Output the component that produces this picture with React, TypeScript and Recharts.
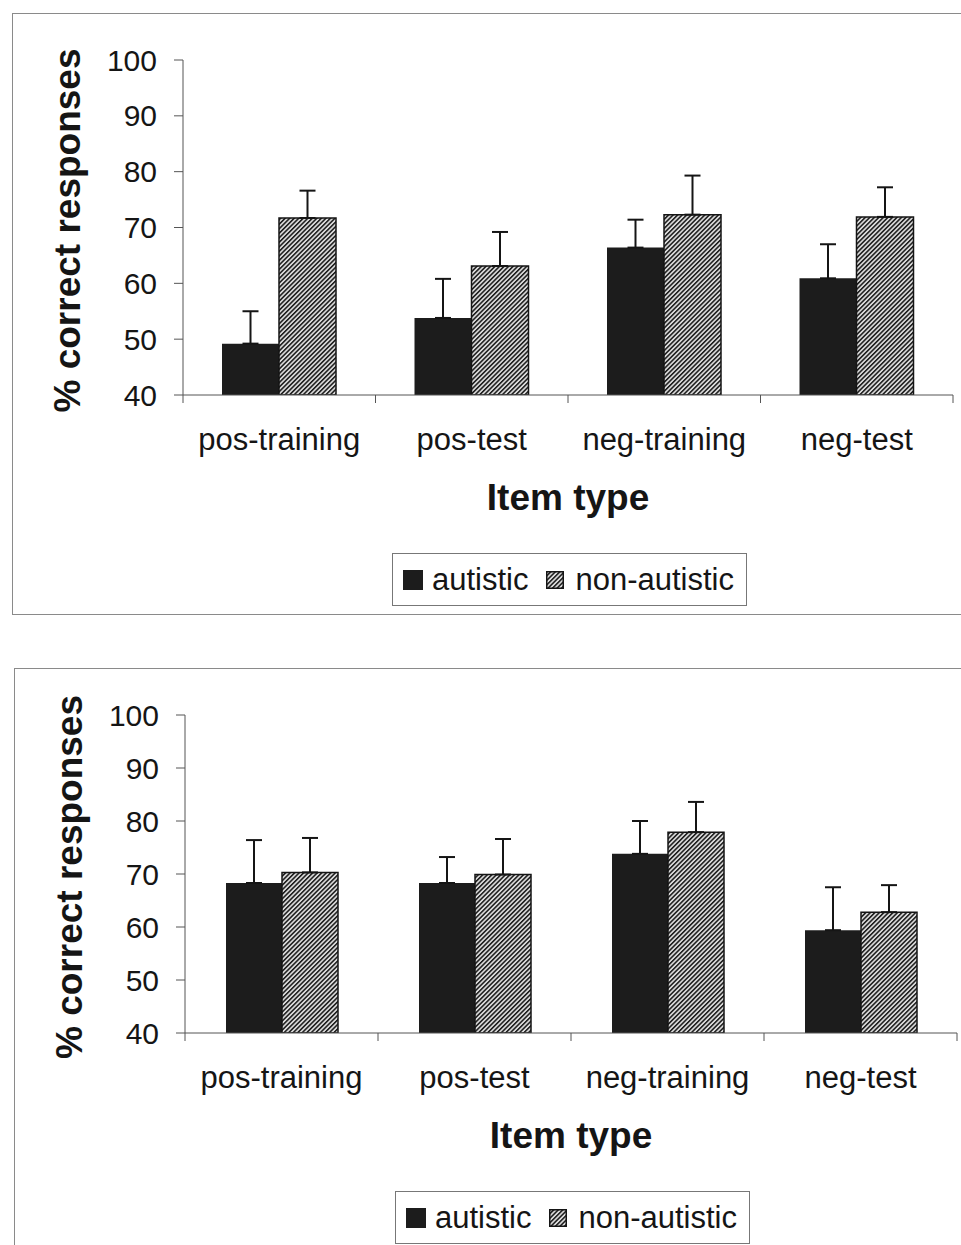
import { Bar, BarChart, ErrorBar, Label, XAxis, YAxis } from 'recharts';

const categories = ['pos-training', 'pos-test', 'neg-training', 'neg-test'];
const yTicks = [40, 50, 60, 70, 80, 90, 100];

// upper panel
const autisticTop = [49.2, 53.8, 66.4, 60.9];
const autisticTopErr = [5.8, 7.0, 5.0, 6.1];
const nonAutisticTop = [71.7, 63.1, 72.3, 71.9];
const nonAutisticTopErr = [4.9, 6.1, 7.0, 5.3];

// lower panel
const autisticBottom = [68.3, 68.3, 73.8, 59.4];
const autisticBottomErr = [8.1, 4.9, 6.2, 8.1];
const nonAutisticBottom = [70.3, 69.9, 77.9, 62.8];
const nonAutisticBottomErr = [6.5, 6.7, 5.7, 5.1];

const FONT = '"Liberation Sans", Arial, sans-serif';
const AXIS = '#555';
const INK = '#151515';

const buildRows = (aut: number[], autErr: number[], non: number[], nonErr: number[]) =>
  categories.map((name, i) => ({
    name,
    autistic: aut[i],
    autErr: [0, autErr[i]],
    nonAutistic: non[i],
    nonErr: [0, nonErr[i]],
  }));

const Hatch = ({ id }: { id: string }) => (
  <pattern id={id} width={3.2} height={3.2} patternUnits="userSpaceOnUse" patternTransform="rotate(45)">
    <rect width={3.2} height={3.2} fill="#d8d8d8" />
    <rect width={1.5} height={3.2} fill="#1a1a1a" />
  </pattern>
);

const CategoryTick = (props: any) => {
  const { x, y, payload, index } = props;
  const half = payload.offset || 96;
  const last = index === categories.length - 1;
  return (
    <g>
      <line x1={x - half} y1={y} x2={x - half} y2={y + 8} stroke={AXIS} />
      {last && <line x1={x + half} y1={y} x2={x + half} y2={y + 8} stroke={AXIS} />}
      <text x={x} y={y + 55} textAnchor="middle" fontSize={31} fontFamily={FONT} fill={INK}>
        {payload.value}
      </text>
    </g>
  );
};

type PanelProps = {
  id: string;
  top: number;
  height: number;
  yAxisWidth: number;
  marginRight: number;
  marginBottom: number;
  barSize: number;
  titleX: number;
  aut: number[];
  autErr: number[];
  non: number[];
  nonErr: number[];
};

const Panel = (p: PanelProps) => {
  const rows = buildRows(p.aut, p.autErr, p.non, p.nonErr);
  const hatchId = `hatch-${p.id}`;
  return (
    <div style={{ position: 'absolute', left: 0, top: p.top }}>
      <BarChart
        width={961}
        height={p.height}
        data={rows}
        barGap={0}
        margin={{ top: 60, right: p.marginRight, left: 0, bottom: p.marginBottom }}
      >
        <defs>
          <Hatch id={hatchId} />
        </defs>
        <XAxis
          dataKey="name"
          height={140}
          stroke={AXIS}
          tickLine={false}
          tickSize={0}
          tickMargin={0}
          tick={<CategoryTick />}
          interval={0}
        >
          <Label
            content={(lp: any) => {
              const vb = lp.viewBox || {};
              return (
                <text
                  x={vb.x + vb.width / 2}
                  y={vb.y + 115}
                  textAnchor="middle"
                  fontSize={37}
                  fontWeight="bold"
                  fontFamily={FONT}
                  fill={INK}
                >
                  Item type
                </text>
              );
            }}
          />
        </XAxis>
        <YAxis
          width={p.yAxisWidth}
          domain={[40, 100]}
          ticks={yTicks}
          allowDataOverflow
          stroke={AXIS}
          tickSize={9}
          tickMargin={17}
          tick={{ fontSize: 30, fontFamily: FONT, fill: INK }}
        >
          <Label
            content={(lp: any) => {
              const vb = lp.viewBox || {};
              const cy = vb.y + vb.height / 2 + 3;
              return (
                <text
                  x={p.titleX}
                  y={cy}
                  transform={`rotate(-90, ${p.titleX}, ${cy})`}
                  textAnchor="middle"
                  fontSize={37}
                  fontWeight="bold"
                  fontFamily={FONT}
                  fill={INK}
                >
                  % correct responses
                </text>
              );
            }}
          />
        </YAxis>
        <Bar dataKey="autistic" fill="#1c1c1c" barSize={p.barSize} isAnimationActive={false}>
          <ErrorBar dataKey="autErr" direction="y" width={8} strokeWidth={2} stroke={INK} />
        </Bar>
        <Bar
          dataKey="nonAutistic"
          fill={`url(#${hatchId})`}
          stroke={INK}
          strokeWidth={1.5}
          barSize={p.barSize}
          isAnimationActive={false}
        >
          <ErrorBar dataKey="nonErr" direction="y" width={8} strokeWidth={2} stroke={INK} />
        </Bar>
      </BarChart>
    </div>
  );
};

const LegendBox = ({ left, top, id }: { left: number; top: number; id: string }) => (
  <div
    style={{
      position: 'absolute',
      left,
      top,
      width: 355,
      height: 53,
      boxSizing: 'border-box',
      border: '1.5px solid #777',
      background: '#fff',
      display: 'flex',
      alignItems: 'center',
      paddingLeft: 10,
      fontFamily: FONT,
      fontSize: 31,
      color: INK,
      whiteSpace: 'nowrap',
    }}
  >
    <svg width={20} height={20} style={{ marginRight: 9 }}>
      <rect width={20} height={20} fill="#1c1c1c" />
    </svg>
    <span style={{ marginRight: 18 }}>autistic</span>
    <svg width={18} height={18} style={{ marginRight: 11 }}>
      <defs>
        <Hatch id={`legend-${id}`} />
      </defs>
      <rect x={0.75} y={0.75} width={16.5} height={16.5} fill={`url(#legend-${id})`} stroke={INK} strokeWidth={1.5} />
    </svg>
    <span>non-autistic</span>
  </div>
);

const frameLine = '1.5px solid #8a8a8a';

export default function App() {
  return (
    <div style={{ position: 'absolute', left: 0, top: 0, width: 961, height: 1245, background: '#fff', overflow: 'hidden' }}>
      <div
        style={{
          position: 'absolute',
          left: 12,
          top: 13,
          width: 960,
          height: 600,
          borderLeft: frameLine,
          borderTop: frameLine,
          borderBottom: frameLine,
        }}
      />
      <div
        style={{
          position: 'absolute',
          left: 14,
          top: 668,
          width: 960,
          height: 600,
          borderLeft: frameLine,
          borderTop: frameLine,
        }}
      />
      <Panel
        id="a"
        top={0}
        height={640}
        yAxisWidth={183}
        marginRight={8}
        marginBottom={105}
        barSize={57}
        titleX={80}
        aut={autisticTop}
        autErr={autisticTopErr}
        non={nonAutisticTop}
        nonErr={nonAutisticTopErr}
      />
      <Panel
        id="b"
        top={655}
        height={590}
        yAxisWidth={185}
        marginRight={4}
        marginBottom={72}
        barSize={56}
        titleX={82}
        aut={autisticBottom}
        autErr={autisticBottomErr}
        non={nonAutisticBottom}
        nonErr={nonAutisticBottomErr}
      />
      <LegendBox left={392} top={553} id="a" />
      <LegendBox left={395} top={1191} id="b" />
    </div>
  );
}
